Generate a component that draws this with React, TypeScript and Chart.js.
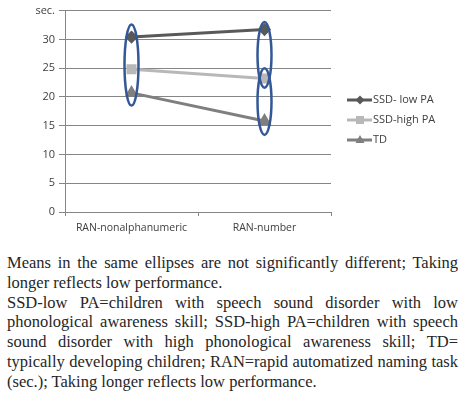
import React, { useEffect, useRef } from "react";
import { Chart, registerables } from "chart.js";

Chart.register(...registerables);

const categories = ["RAN-nonalphanumeric", "RAN-number"];
const seriesNames = ["SSD- low PA", "SSD-high PA", "TD"];
const ssdLowPA = [30.4, 31.7];
const ssdHighPA = [24.8, 23.2];
const tdValues = [20.7, 15.8];
const yTicks = [0, 5, 10, 15, 20, 25, 30, 35];
// ellipses: [category index, top value, bottom value]
const ellipseCats = [0, 1, 1];
const ellipseTops = [32.6, 33.0, 25.0];
const ellipseBottoms = [18.5, 21.6, 13.4];

const captionLines = [
  "Means in the same ellipses are not significantly different; Taking longer reflects low performance.",
  "SSD-low PA=children with speech sound disorder with low phonological awareness skill; SSD-high PA=children with speech sound disorder with high phonological awareness skill; TD= typically developing children; RAN=rapid automatized naming task (sec.); Taking longer reflects low performance.",
];

const colors = ["#595959", "#b8b8b8", "#7f7f7f"];
const pointStyles = ["rectRot", "rect", "triangle"];
const pointRadii = [4.5, 5, 5];

function drawMarker(ctx: CanvasRenderingContext2D, style: string, r: number, x: number, y: number) {
  ctx.beginPath();
  if (style === "rectRot") {
    ctx.moveTo(x, y - r);
    ctx.lineTo(x + r, y);
    ctx.lineTo(x, y + r);
    ctx.lineTo(x - r, y);
  } else if (style === "rect") {
    const s = r * 0.8;
    ctx.rect(x - s, y - s, 2 * s, 2 * s);
  } else {
    ctx.moveTo(x, y - r);
    ctx.lineTo(x + r * 0.9, y + r * 0.6);
    ctx.lineTo(x - r * 0.9, y + r * 0.6);
  }
  ctx.closePath();
  ctx.fill();
}

const ellipsePlugin = {
  id: "ellipses",
  afterDatasetsDraw(chart: any) {
    const { ctx, scales } = chart;
    const xs = scales.x;
    const ys = scales.y;
    ctx.save();
    ctx.strokeStyle = "#345896";
    ctx.lineWidth = 2.5;
    for (let i = 0; i < ellipseCats.length; i++) {
      const cx = xs.getPixelForValue(ellipseCats[i]);
      const t = ys.getPixelForValue(ellipseTops[i]);
      const b = ys.getPixelForValue(ellipseBottoms[i]);
      ctx.beginPath();
      ctx.ellipse(cx, (t + b) / 2, 7, (b - t) / 2, 0, 0, Math.PI * 2);
      ctx.stroke();
    }
    ctx.restore();
  },
};

const legendPlugin = {
  id: "customLegend",
  afterDraw(chart: any) {
    const { ctx } = chart;
    const x0 = chart.chartArea.right + 16;
    const y0 = 100;
    ctx.save();
    chart.data.datasets.forEach((ds: any, i: number) => {
      const y = y0 + i * 20;
      ctx.strokeStyle = ds.borderColor;
      ctx.lineWidth = 3;
      ctx.beginPath();
      ctx.moveTo(x0, y);
      ctx.lineTo(x0 + 25, y);
      ctx.stroke();
      ctx.fillStyle = ds.borderColor;
      drawMarker(ctx, ds.pointStyle, ds.pointRadius, x0 + 13, y);
      ctx.fillStyle = "#404040";
      ctx.font = "11px 'Open Sans'";
      ctx.textBaseline = "middle";
      ctx.textAlign = "left";
      ctx.fillText(ds.label, x0 + 26, y);
    });
    ctx.restore();
  },
};

export default function App() {
  const canvasRef = useRef<HTMLCanvasElement>(null);

  useEffect(() => {
    document.body.style.margin = "0";
    const values = [ssdLowPA, ssdHighPA, tdValues];
    const chart = new Chart(canvasRef.current as HTMLCanvasElement, {
      type: "line",
      data: {
        labels: categories,
        datasets: seriesNames.map((name, i) => ({
          label: name,
          data: values[i],
          borderColor: colors[i],
          backgroundColor: colors[i],
          pointBackgroundColor: colors[i],
          pointBorderColor: colors[i],
          pointStyle: pointStyles[i] as any,
          pointRadius: pointRadii[i],
          borderWidth: 3,
          tension: 0,
        })),
      },
      options: {
        animation: false,
        responsive: false,
        layout: { padding: { top: 10, left: 0, right: 135, bottom: 0 } },
        plugins: {
          legend: { display: false },
          tooltip: { enabled: false },
        },
        scales: {
          x: {
            offset: true,
            grid: {
              display: true,
              drawOnChartArea: false,
              drawTicks: true,
              tickLength: 4,
              color: "#868686",
              offset: true,
            },
            border: { color: "#868686" },
            ticks: {
              color: "#404040",
              font: { family: "'Open Sans'", size: 10.5 },
              padding: 6,
            },
            afterFit(scale: any) {
              scale.height = 28;
            },
          },
          y: {
            min: 0,
            max: 35,
            afterBuildTicks(scale: any) {
              scale.ticks = yTicks.map((v) => ({ value: v }));
            },
            grid: {
              color: "#868686",
              tickLength: 6,
            },
            border: { color: "#868686" },
            ticks: {
              color: "#404040",
              font: { family: "'Open Sans'", size: 11 },
              padding: 4,
              callback: (v: any) => (v === 35 ? "sec." : String(v)),
            },
            afterFit(scale: any) {
              scale.width = 65;
            },
          },
        },
      },
      plugins: [ellipsePlugin, legendPlugin],
    });
    return () => chart.destroy();
  }, []);

  return (
    <div style={{ position: "relative", width: 466, height: 396, background: "#fff" }}>
      <canvas ref={canvasRef} width={466} height={240} style={{ position: "absolute", left: 0, top: 0 }} />
      <div
        style={{
          position: "absolute",
          left: 7,
          top: 253,
          width: 451,
          fontFamily: "'Liberation Serif', serif",
          fontSize: 16.5,
          lineHeight: "19.8px",
          color: "#262626",
          textAlign: "justify",
        }}
      >
        {captionLines.map((l, i) => (
          <div key={i}>{l}</div>
        ))}
      </div>
    </div>
  );
}
